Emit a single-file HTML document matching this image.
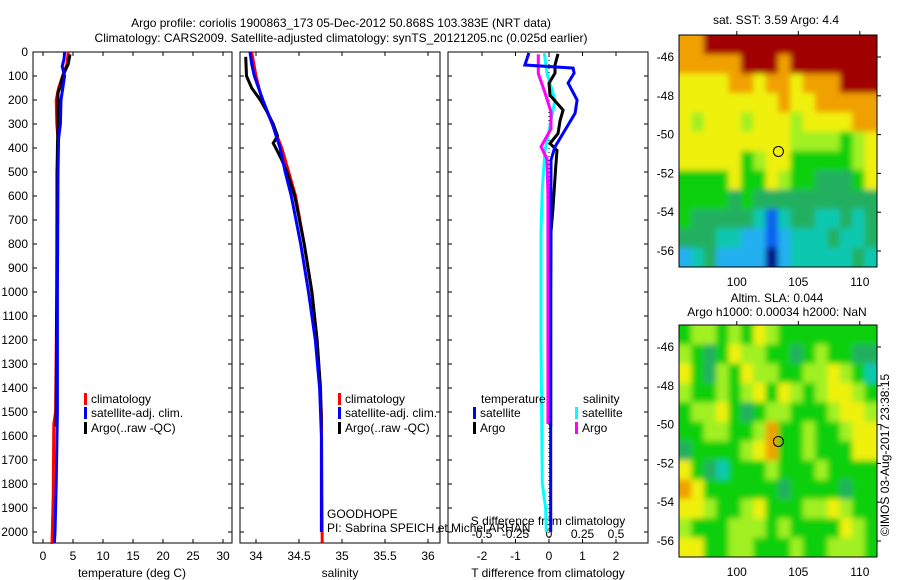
<!DOCTYPE html>
<html><head><meta charset="utf-8"><style>
body{margin:0;background:#fff}
svg{display:block;font-family:"Liberation Sans",sans-serif;font-size:12px}
</style></head><body>
<svg id="c" width="900" height="580" xmlns="http://www.w3.org/2000/svg">
<defs>
<filter id="blur" x="-5%" y="-5%" width="110%" height="110%"><feGaussianBlur stdDeviation="3"/></filter>
<clipPath id="clip1"><rect x="679" y="35" width="198" height="232"/></clipPath>
<clipPath id="clip2"><rect x="679" y="325" width="198" height="232"/></clipPath>
</defs>
<text x="341" y="27" text-anchor="middle">Argo profile: coriolis 1900863_173 05-Dec-2012 50.868S 103.383E (NRT data)</text>
<text x="341" y="42" text-anchor="middle">Climatology: CARS2009. Satellite-adjusted climatology: synTS_20121205.nc (0.025d earlier)</text>
<g clip-path="url(#clip1)"><g id="m1" filter="url(#blur)"></g></g>
<g clip-path="url(#clip2)"><g id="m2" filter="url(#blur)"></g></g>
<g id="g"></g>
</svg>
<script>
// ---- data ----
const depthTicks=[0,100,200,300,400,500,600,700,800,900,1000,1100,1200,1300,1400,1500,1600,1700,1800,1900,2000];
const tempTicks=[0,5,10,15,20,25,30];
const salTicks=[34,34.5,35,35.5,36];
const tdiffTicks=[-2,-1,0,1,2];
const sdiffTicks=[-0.5,-0.25,0,0.25,0.5];
const tArgoD=[10,50,100,150,170,250,300,400,600,1000,1500,1560];
const tArgoV=[4.5,4.2,3.3,2.8,2.5,2.5,2.5,2.4,2.4,2.3,2.2,2.2];
const tClimD=[0,50,90,150,200,300,360,500,1000,1500,1550,1850,2050];
const tClimV=[4.2,4.0,3.4,2.6,2.2,2.3,2.5,2.3,2.3,2.1,1.8,1.7,1.5];
const tSatD=[0,30,60,100,200,300,360,500,1000,1500,1800,2000,2045];
const tSatV=[3.6,3.5,3.2,3.6,3.0,2.9,2.6,2.5,2.4,2.4,2.2,2.0,1.9];
const sArgoD=[20,100,150,200,250,300,350,380,400,450,500,600,800,1000,1200,1400,1560];
const sArgoV=[33.88,33.89,33.95,34.05,34.13,34.2,34.25,34.2,34.23,34.3,34.36,34.45,34.56,34.65,34.71,34.75,34.76];
const sClimD=[0,100,200,300,400,500,600,800,1000,1200,1500,2045];
const sClimV=[33.95,34.0,34.07,34.19,34.3,34.38,34.46,34.56,34.65,34.71,34.76,34.77];
const sSatD=[0,50,100,200,300,400,500,600,800,1000,1200,1400,1600,2000];
const sSatV=[33.93,33.95,33.98,34.08,34.19,34.28,34.34,34.41,34.52,34.61,34.69,34.74,34.76,34.76];
const dtSatD=[4,54,67,88,129,200,255,325,395,450,1000,2000];
const dtSatV=[-0.6,-0.72,0.72,0.75,0.57,0.84,0.78,0.48,0.18,0.06,0.05,0.05];
const dtArgoD=[8,54,88,130,180,242,285,340,381,410,480,650,750,1000,1560];
const dtArgoV=[0.27,0.18,0.18,0,0.03,0.42,0.33,0.27,0.03,0.24,0.2,0.12,0.06,0.05,0.05];
const dsSatD=[5,90,200,300,410,570,750,1200,1800,1900,2000];
const dsSatV=[-0.035,-0.015,0.045,0.01,-0.03,-0.05,-0.06,-0.06,-0.05,-0.025,-0.02];
const dsArgoD=[10,90,170,250,320,395,445,600,1000,1550];
const dsArgoV=[-0.08,-0.08,-0.03,0.015,0.015,-0.06,-0.015,-0.008,-0.008,-0.008];
const latTicks=[-46,-48,-50,-52,-54,-56];
const lonTicks=[100,105,110];
const sstGrid=[
[8,8,9,9,9,9,9,9,9,9,9,9,9,9,9,9],[8,8,8,8,8,9,9,9,8,9,9,9,9,9,9,9],
[7,7,7,7,8,8,7,8,8,7,8,8,8,9,9,9],[7,7,7,7,7,7,7,7,8,7,7,8,8,8,8,8],
[7,6,7,7,7,6,7,7,7,6,7,7,7,7,8,8],[7,7,7,7,7,7,7,7,7,6,6,6,6,5,6,7],
[7,7,7,7,7,5,6,7,7,5,5,5,5,5,6,7],[5,5,5,5,7,5,5,7,6,5,5,4,4,4,5,7],
[5,5,5,5,4,5,4,4,4,4,4,4,4,4,4,4],[5,4,4,4,4,4,3,1,3,4,4,3,3,4,3,4],
[4,4,4,3,3,2,2,1,2,3,3,3,4,3,3,4],[2,3,4,2,2,2,2,0,2,3,3,3,3,3,4,3]];
const slaGrid=[
[5,6,6,5,6,5,7,6,5,5,5,5,5,5,5,5],[6,5,4,5,7,6,6,5,5,4,5,6,5,5,4,4],
[7,5,4,6,5,7,6,6,5,5,6,6,7,6,5,3],[6,5,5,6,5,6,7,5,7,6,5,6,7,7,6,5],
[5,6,6,7,5,4,5,6,6,5,5,5,6,7,7,6],[5,5,6,6,5,5,6,8,5,5,6,5,5,6,7,7],
[4,5,5,5,5,6,7,8,5,5,6,5,5,5,7,7],[7,5,4,3,5,5,5,6,5,5,5,6,5,5,5,5],
[8,7,5,5,5,5,5,5,4,5,5,5,5,4,5,5],[7,7,6,5,5,6,7,5,5,5,6,6,7,6,5,5],
[6,5,5,5,6,6,6,5,6,5,5,5,5,7,6,5],[7,7,5,5,6,6,5,5,5,6,5,5,6,6,6,5]];
const palette=["#00108a","#1060f0","#20b0f0","#10c8b0","#20b060","#10d010","#a0f020","#f0f010","#f0a000","#a00000"];
// ---- drawing ----
const NS="http://www.w3.org/2000/svg";
let G=document.getElementById('g');
function el(t,a,txt,par){const e=document.createElementNS(NS,t);for(const k in a)e.setAttribute(k,a[k]);if(txt!==undefined&&txt!==null)e.textContent=txt;(par||G).appendChild(e);return e;}
const yD=d=>52+d*0.24;
const P1={l:33,r:232,x:v=>43+6*v},P2={l:240,r:440,x:v=>256+86*(v-34)},P3={l:448,r:648,x:v=>549+33.5*v,xs:v=>549+134*v};
const TOP=52,BOT=543;
function frame(p,name){
 const r=el('rect',{x:p.l,y:TOP,width:p.r-p.l,height:BOT-TOP,fill:'#fff',stroke:'#000'});
 
 
 depthTicks.forEach(d=>{const y=yD(d);el('line',{x1:p.l,x2:p.l+4,y1:y,y2:y,stroke:'#000'});el('line',{x1:p.r,x2:p.r-4,y1:y,y2:y,stroke:'#000'});});
}
frame(P1,'temperature-panel');frame(P2,'salinity-panel');frame(P3,'difference-panel');
depthTicks.forEach(d=>{const t=el('text',{x:28,y:yD(d)+4,'text-anchor':'end'},d);
 
 });
function xt(p,ticks,f,name){ticks.forEach(v=>{const x=f(v);el('line',{x1:x,x2:x,y1:BOT,y2:BOT-4,stroke:'#000'});el('line',{x1:x,x2:x,y1:TOP,y2:TOP+4,stroke:'#000'});const t=el('text',{x:x,y:560,'text-anchor':'middle'},v);
 
 });}
xt(P1,tempTicks,P1.x,'temperature-tick-label');xt(P2,salTicks,P2.x,'salinity-tick-label');xt(P3,tdiffTicks,P3.x,'tdiff-tick-label');
sdiffTicks.forEach(v=>{const t=el('text',{x:P3.xs(v),y:538,'text-anchor':'middle'},v);
 
 });
[[132,'temperature (deg C)','temperature-axis-title'],[340,'salinity','salinity-axis-title'],[548,'T difference from climatology','tdiff-axis-title'],[548,'S difference from climatology','sdiff-axis-title']].forEach((a,i)=>{const t=el('text',{x:a[0],y:i==3?525:577,'text-anchor':'middle'},a[1]);
 
 });
const z=el('line',{x1:549,x2:549,y1:TOP,y2:BOT,stroke:'#000','stroke-dasharray':'1,3'});


function line(D,V,f,col,name){const pts=D.map((d,i)=>f(V[i]).toFixed(1)+','+yD(d).toFixed(1)).join(' ');const e=el('polyline',{points:pts,fill:'none',stroke:col,'stroke-width':3});
 
 }
line(tClimD,tClimV,P1.x,'#f00','temp-climatology');line(tArgoD,tArgoV,P1.x,'#000','temp-argo');line(tSatD,tSatV,P1.x,'#00f','temp-satellite');
line(sClimD,sClimV,P2.x,'#f00','sal-climatology');line(sArgoD,sArgoV,P2.x,'#000','sal-argo');line(sSatD,sSatV,P2.x,'#00f','sal-satellite');
line(dsSatD,dsSatV,P3.xs,'#0ff','sdiff-satellite');line(dsArgoD,dsArgoV,P3.xs,'#f0f','sdiff-argo');line(dtArgoD,dtArgoV,P3.x,'#000','tdiff-argo');line(dtSatD,dtSatV,P3.x,'#00f','tdiff-satellite');
function leg(x,y,col,txt,name){el('rect',{x:x,y:y-10,width:3,height:12,fill:col});const t=el('text',{x:x+7,y:y},txt);
 
 }
[[P1.l+51,'legend-temp'],[P2.l+98,'legend-sal']].forEach(([x,n])=>{leg(x,403,'#f00','climatology',n+'-climatology');leg(x,417,'#00f','satellite-adj. clim.',n+'-satellite');leg(x,432,'#000','Argo(..raw -QC)',n+'-argo');});
let tx=el('text',{x:481,y:403},'temperature');


tx=el('text',{x:583,y:403},'salinity');


leg(473,417,'#00f','satellite','legend-tdiff-satellite');leg(473,432,'#000','Argo','legend-tdiff-argo');
leg(575,417,'#0ff','satellite','legend-sdiff-satellite');leg(575,432,'#f0f','Argo','legend-sdiff-argo');
tx=el('text',{x:327,y:518},'GOODHOPE');


tx=el('text',{x:327,y:532},'PI: Sabrina SPEICH et Michel ARHAN');


// maps
function map(y0,grid,name,layer){
 const L=679,R=877,B=y0+232,lonX=v=>L+(v-95.3)*12.3,latY=v=>y0+22+(-46-v)*19.4;
 const nr=grid.length,nc=grid[0].length,cw=(R-L)/nc,ch=(B-y0)/nr,pad=15;
 grid.forEach((row,i)=>row.forEach((c,j)=>{
  let x=L+j*cw,y=y0+i*ch,w=cw+0.5,h=ch+0.5;
  if(j==0){x-=pad;w+=pad;} if(j==nc-1){w+=pad;}
  if(i==0){y-=pad;h+=pad;} if(i==nr-1){h+=pad;}
  const r=el('rect',{x:x,y:y,width:w,height:h,fill:palette[c]},null,layer);
  
  }));
 const f=el('rect',{x:L,y:y0,width:R-L,height:B-y0,fill:'none',stroke:'#000'});
 
 
 latTicks.forEach(v=>{const y=latY(v);el('line',{x1:R,x2:R+4,y1:y,y2:y,stroke:'#000'});const t=el('text',{x:674,y:y+4,'text-anchor':'end'},v);
  
  });
 lonTicks.forEach(v=>{const x=lonX(v);el('line',{x1:x,x2:x,y1:y0,y2:y0-4,stroke:'#000'});const t=el('text',{x:x,y:B+19,'text-anchor':'middle'},v);
  
  });
 const c=el('circle',{cx:lonX(103.383),cy:latY(-50.868),r:5,fill:'none',stroke:'#000'});
 
 
}
map(35,sstGrid,'sst-map',document.getElementById('m1'));map(325,slaGrid,'sla-map',document.getElementById('m2'));
tx=el('text',{x:776,y:24,'text-anchor':'middle'},'sat. SST: 3.59 Argo: 4.4');


tx=el('text',{x:777,y:302,'text-anchor':'middle'},'Altim. SLA: 0.044');


tx=el('text',{x:777,y:316,'text-anchor':'middle'},'Argo h1000: 0.00034 h2000: NaN');


tx=el('text',{x:889,y:455,'text-anchor':'middle',transform:'rotate(-90 889 455)'},'©IMOS 03-Aug-2017 23:38:15');


</script>
</body></html>
